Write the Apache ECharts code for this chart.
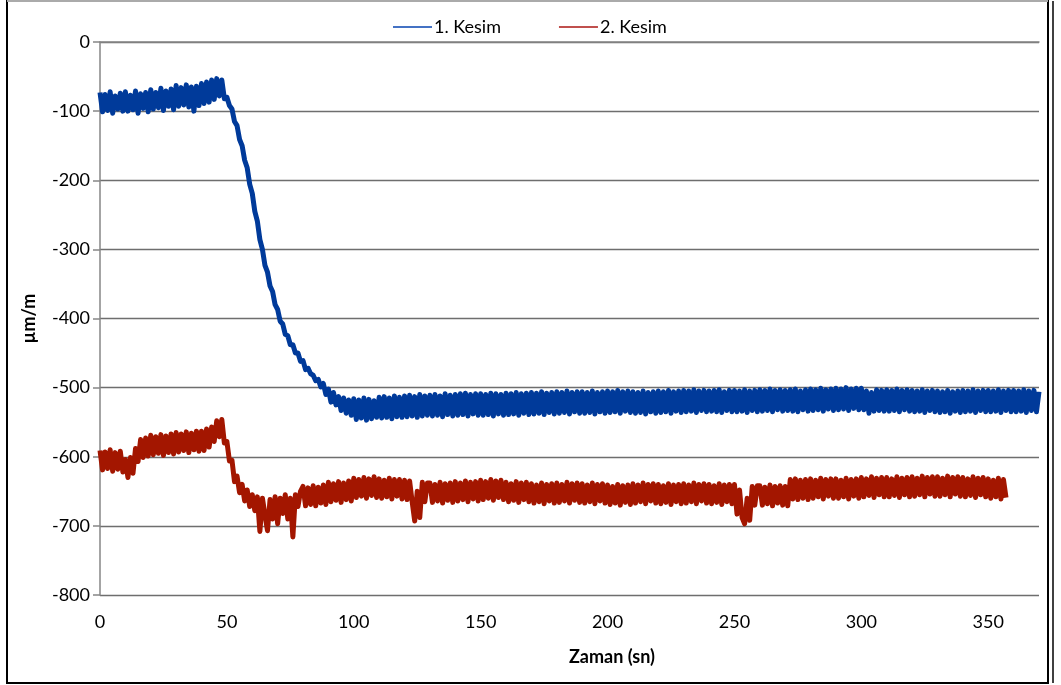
<!DOCTYPE html>
<html>
<head>
<meta charset="utf-8">
<script src="https://cdn.jsdelivr.net/npm/echarts@6/dist/echarts.min.js"></script>
<style>html,body{margin:0;padding:0;background:#fff}#c{width:1061px;height:685px}</style>
</head>
<body>
<div id="c"></div>
<script>
// time step 1 s, values in µm/m
const seriesNames = ['1. Kesim', '2. Kesim'];
const xTicks = [0, 50, 100, 150, 200, 250, 300, 350];
const yTicks = [0, -100, -200, -300, -400, -500, -600, -700, -800];

const kesim1 = [
-73,-101,-76,-99,-72,-103,-78,-97,-74,-100,
-72,-100,-77,-98,-71,-103,-75,-96,-73,-101,
-69,-97,-73,-95,-67,-99,-71,-93,-68,-98,
-63,-93,-66,-91,-62,-94,-65,-100,-64,-92,
-60,-89,-58,-87,-55,-83,-53,-78,-55,-82,
-80,-92,-97,-115,-121,-141,-150,-171,-182,-206,
-219,-245,-259,-286,-300,-323,-333,-353,-361,-380,
-387,-404,-408,-423,-425,-438,-438,-450,-450,-462,
-461,-474,-472,-480,-482,-490,-488,-499,-494,-510,
-502,-521,-507,-525,-513,-533,-515,-537,-518,-540,
-516,-546,-518,-544,-515,-547,-517,-545,-519,-543,
-514,-544,-513,-543,-515,-545,-512,-542,-514,-543,
-512,-542,-511,-541,-513,-543,-510,-541,-512,-540,
-511,-541,-510,-540,-512,-542,-509,-539,-511,-541,
-510,-540,-509,-539,-508,-541,-510,-538,-509,-540,
-509,-540,-510,-539,-508,-541,-509,-538,-510,-540,
-508,-539,-509,-538,-507,-540,-509,-537,-508,-539,
-507,-538,-508,-537,-506,-539,-508,-536,-507,-538,
-506,-537,-507,-536,-505,-538,-507,-535,-506,-537,
-506,-537,-507,-536,-505,-538,-507,-535,-506,-537,
-505,-536,-506,-535,-504,-537,-506,-534,-505,-536,
-506,-537,-507,-536,-505,-538,-507,-535,-506,-537,
-505,-536,-506,-535,-504,-537,-506,-534,-505,-536,
-504,-535,-505,-534,-503,-536,-505,-533,-504,-535,
-505,-534,-504,-535,-503,-536,-506,-533,-504,-535,
-504,-535,-505,-534,-503,-536,-505,-533,-504,-535,
-503,-534,-504,-533,-502,-535,-504,-532,-503,-534,
-504,-533,-503,-534,-502,-535,-505,-532,-503,-534,
-502,-533,-503,-532,-501,-534,-503,-531,-502,-533,
-501,-532,-502,-531,-500,-533,-502,-530,-501,-532,
-501,-532,-505,-537,-507,-534,-503,-533,-504,-534,
-503,-534,-504,-533,-502,-535,-504,-532,-503,-534,
-504,-535,-505,-534,-503,-536,-505,-533,-504,-535,
-505,-536,-506,-535,-504,-537,-506,-534,-505,-536,
-504,-535,-505,-534,-503,-536,-505,-533,-504,-535,
-504,-535,-505,-534,-503,-536,-505,-533,-504,-535,
-504,-535,-505,-534,-503,-536,-505,-533,-504,-535,-506
];

const kesim2 = [
-591,-619,-593,-617,-590,-621,-594,-618,-592,-622,
-604,-630,-601,-624,-588,-607,-575,-601,-573,-599,
-569,-597,-571,-595,-568,-598,-570,-594,-567,-596,
-565,-593,-567,-591,-564,-594,-566,-590,-563,-592,
-563,-591,-560,-586,-557,-578,-548,-571,-546,-580,
-578,-606,-605,-636,-628,-652,-640,-664,-648,-672,
-655,-678,-658,-708,-660,-684,-707,-662,-690,-658,
-697,-660,-682,-655,-690,-660,-716,-655,-672,-650,
-643,-671,-645,-669,-642,-671,-644,-667,-641,-669,
-637,-665,-639,-663,-636,-666,-638,-662,-635,-664,
-631,-659,-633,-657,-630,-660,-632,-656,-629,-659,
-632,-660,-634,-658,-631,-661,-633,-657,-633,-661,
-634,-662,-635,-665,-693,-650,-688,-637,-665,-638,
-638,-666,-640,-664,-637,-667,-639,-663,-638,-666,
-636,-664,-638,-662,-635,-665,-637,-661,-636,-664,
-634,-662,-636,-660,-633,-663,-635,-659,-634,-662,
-637,-665,-639,-663,-636,-666,-638,-662,-637,-665,
-639,-667,-641,-665,-638,-668,-640,-664,-639,-667,
-638,-666,-640,-664,-637,-667,-639,-663,-638,-666,
-639,-667,-641,-665,-638,-668,-640,-664,-639,-667,
-641,-669,-643,-667,-640,-670,-642,-666,-641,-669,
-639,-667,-641,-665,-638,-668,-640,-664,-639,-667,
-640,-668,-642,-666,-639,-669,-641,-665,-640,-668,
-639,-667,-641,-665,-638,-668,-640,-664,-639,-667,
-640,-668,-642,-666,-639,-669,-641,-665,-640,-668,
-640,-683,-648,-688,-697,-660,-692,-643,-670,-642,
-642,-670,-644,-668,-641,-671,-643,-667,-642,-670,
-643,-671,-633,-661,-632,-662,-634,-660,-633,-662,
-632,-660,-634,-658,-631,-661,-633,-657,-632,-660,
-632,-660,-634,-658,-631,-661,-633,-657,-632,-660,
-630,-658,-632,-656,-629,-659,-631,-655,-630,-658,
-630,-658,-632,-656,-629,-659,-631,-655,-630,-658,
-629,-657,-631,-655,-628,-658,-630,-654,-629,-657,
-629,-657,-631,-655,-628,-658,-630,-654,-629,-657,
-630,-658,-632,-656,-629,-659,-631,-655,-630,-658,
-632,-660,-634,-658,-631,-661,-633,-659
];

const toPairs = arr => arr.map((v, i) => [i, v]);
const FONT = 'Lato, "Open Sans", sans-serif';

const chart = echarts.init(document.getElementById('c'), null, {renderer: 'canvas'});
chart.setOption({
  animation: false,
  backgroundColor: '#fff',
  textStyle: {fontFamily: FONT},
  legend: {
    left: 388, top: 13,
    itemWidth: 39, itemHeight: 2, itemGap: 58,
    icon: 'rect',
    textStyle: {fontFamily: FONT, fontSize: 18, color: '#000', padding: [0, 0, 0, -3]},
    data: [
      {name: seriesNames[0], itemStyle: {color: '#4472C4'}},
      {name: seriesNames[1], itemStyle: {color: '#C0504D'}}
    ]
  },
  grid: {left: 100, right: 22, top: 42, bottom: 90},
  xAxis: {
    type: 'value', min: 0, max: 370, interval: 50,
    axisLine: {show: true, lineStyle: {color: '#868686', width: 1.5}},
    axisTick: {show: false},
    splitLine: {show: false},
    axisLabel: {
      fontFamily: FONT, fontSize: 18, color: '#000', margin: 18,
      formatter: v => (xTicks.indexOf(v) >= 0 ? String(v) : '')
    }
  },
  yAxis: {
    type: 'value', min: -800, max: 0, interval: 100,
    name: 'µm/m', nameLocation: 'middle', nameGap: 62, nameRotate: 90,
    nameTextStyle: {fontFamily: FONT, fontSize: 18, fontWeight: 'bold', color: '#000'},
    axisLine: {show: true, onZero: false, lineStyle: {color: '#868686', width: 1.5}},
    axisTick: {show: true, inside: false, length: 7, lineStyle: {color: '#868686', width: 1.5}},
    splitLine: {show: true, lineStyle: {color: '#6e6e6e', width: 1.3}},
    axisLabel: {
      fontFamily: FONT, fontSize: 18, color: '#000', margin: 10,
      formatter: v => (yTicks.indexOf(v) >= 0 ? String(v) : '')
    }
  },
  graphic: [
    {type: 'rect', shape: {x: 7, y: 1, width: 1041, height: 682}, style: {fill: 'none', stroke: '#000', lineWidth: 2}, silent: true},
    {type: 'line', shape: {x1: 1053, y1: 1, x2: 1053, y2: 683}, style: {stroke: '#000', lineWidth: 1.5}, silent: true},
    {type: 'line', shape: {x1: 7, y1: 1, x2: 1048, y2: 1}, style: {stroke: '#aaa', lineWidth: 2}, silent: true},
    {type: 'text', left: 569, top: 648, style: {text: 'Zaman (sn)', font: 'bold 18px ' + FONT, fill: '#000'}}
  ],
  series: [
    {
      name: seriesNames[0], type: 'line', data: toPairs(kesim1),
      showSymbol: false, sampling: null, smooth: false,
      lineStyle: {color: '#003A9A', width: 5, join: 'round'}, itemStyle: {color: '#003A9A'}, z: 3
    },
    {
      name: seriesNames[1], type: 'line', data: toPairs(kesim2),
      showSymbol: false, sampling: null, smooth: false,
      lineStyle: {color: '#A31600', width: 5, join: 'round'}, itemStyle: {color: '#A31600'}, z: 2
    }
  ]
});
</script>
</body>
</html>
